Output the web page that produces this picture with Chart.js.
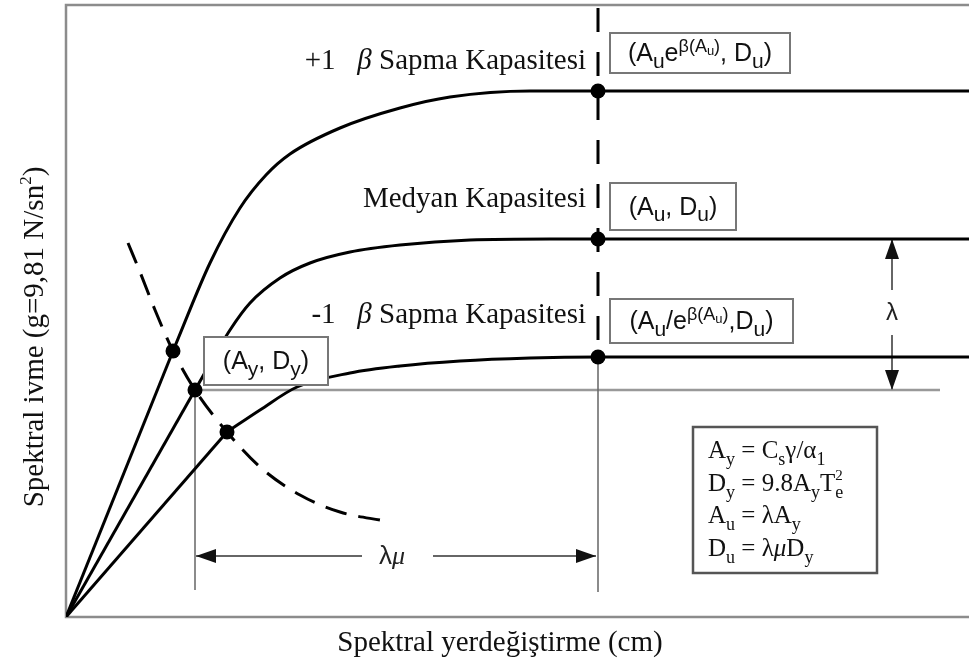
<!DOCTYPE html>
<html>
<head>
<meta charset="utf-8">
<script src="https://cdn.jsdelivr.net/npm/chart.js@4"></script>
<style>
html, body { margin: 0; padding: 0; background: #fff; }
canvas { display: block; }
</style>
</head>
<body>
<canvas id="myChart" width="969" height="669"></canvas>
<script>
// capacity curves: elastic branch from the origin to the yield point, then the plastic part
var upperCurve = [[0, 0], [10.7, 26.6], [14.4, 35.4], [17.4, 40.9], [20.0, 44.2], [22.4, 46.3], [27.4, 48.9], [33.4, 50.9], [38.4, 52.0], [46.4, 52.6], [90.3, 52.6]]
var medianCurve = [[0, 0], [12.9, 22.7], [16.4, 28.7], [18.4, 31.4], [21.4, 33.9], [24.4, 35.4], [28.4, 36.5], [33.4, 37.2], [40.4, 37.7], [48.4, 37.8], [90.3, 37.8]]
var lowerCurve = [[0, 0], [16.1, 18.5], [19.4, 20.7], [23.1, 23.0], [28.4, 24.4], [33.4, 25.1], [39.4, 25.6], [46.4, 25.9], [53.2, 26.0], [90.3, 26.0]]

// demand spectrum (dashed)
var demandCurve = [[6.2, 37.4], [7.4, 34.5], [8.9, 30.7], [10.7, 26.6], [12.9, 22.7], [16.1, 18.5], [19.4, 15.0], [23.4, 12.2], [27.4, 10.5], [31.9, 9.6]]

// ultimate displacement Du and the capacity levels at it
var ultimateDisp = 53.2
var capacityLevels = [52.6, 37.8, 26.0]
var capacityNames = [['+1   ', 'β', ' Sapma Kapasitesi'], ['', '', 'Medyan Kapasitesi'], ['-1   ', 'β', ' Sapma Kapasitesi']]

// yield point (Ay, Dy)
var yieldDisp = 12.9
var yieldAcc = 22.7

var xMax = 90.3
var yMax = 61.2

var pts = arr => arr.map(p => ({ x: p[0], y: p[1] }))

var serif = '"Liberation Serif", "Times New Roman", serif'
var sans = '"Liberation Sans", Arial, sans-serif'

// runs: { t, l, it, nx } - l: 0 normal, -1 sub, 1 sup, 2 sub inside sup; nx: do not advance
// the "b" levels are the larger indices used inside the point boxes
var levels = {
	'0': { s: 1, dy: 0 },
	'-1': { s: 0.72, dy: 0.28 },
	'1': { s: 0.6, dy: -0.42 },
	'2': { s: 0.42, dy: -0.28 },
	'-1b': { s: 0.82, dy: 0.26 },
	'1b': { s: 0.72, dy: -0.38 },
	'2b': { s: 0.52, dy: -0.24 }
}

function runFont (r, size, family) {
	var lv = levels[r.l || 0]
	return (r.it ? 'italic ' : '') + Math.round(size * lv.s) + 'px ' + family
}

function richWidth (ctx, runs, size, family) {
	var w = 0
	runs.forEach(r => {
		ctx.font = runFont(r, size, r.f || family)
		if (!r.nx) w += ctx.measureText(r.t).width
	})
	return w
}

function drawRich (ctx, x, y, runs, size, family, align) {
	var w = richWidth(ctx, runs, size, family)
	if (align === 'center') x -= w / 2
	if (align === 'right') x -= w
	ctx.textAlign = 'left'
	ctx.textBaseline = 'alphabetic'
	runs.forEach(r => {
		var lv = levels[r.l || 0]
		ctx.font = runFont(r, size, r.f || family)
		ctx.fillText(r.t, x, y + lv.dy * size)
		if (!r.nx) x += ctx.measureText(r.t).width
	})
}

function box (ctx, x, y, w, h, color, lw) {
	ctx.fillStyle = '#fff'
	ctx.fillRect(x, y, w, h)
	ctx.strokeStyle = color
	ctx.lineWidth = lw
	ctx.strokeRect(x, y, w, h)
}

function arrowHead (ctx, x, y, dir) {
	var len = 20, half = 7
	var dx = { left: 1, right: -1, up: 0, down: 0 }[dir]
	var dy = { left: 0, right: 0, up: 1, down: -1 }[dir]
	ctx.fillStyle = '#111'
	ctx.beginPath()
	ctx.moveTo(x, y)
	ctx.lineTo(x + dx * len - dy * half, y + dy * len - dx * half)
	ctx.lineTo(x + dx * len + dy * half, y + dy * len + dx * half)
	ctx.closePath()
	ctx.fill()
}

var framePlugin = {
	id: 'frame',
	beforeDatasetsDraw (chart) {
		var ctx = chart.ctx
		var a = chart.chartArea
		ctx.save()
		ctx.strokeStyle = '#8c8c8c'
		ctx.lineWidth = 2.5
		ctx.beginPath()
		ctx.moveTo(a.right, a.top)
		ctx.lineTo(a.left, a.top)
		ctx.lineTo(a.left, a.bottom)
		ctx.lineTo(a.right, a.bottom)
		ctx.stroke()
		ctx.restore()
	}
}

var labelPlugin = {
	id: 'labels',
	afterDatasetsDraw (chart) {
		var ctx = chart.ctx
		var xs = chart.scales.x
		var ys = chart.scales.y
		var px = v => xs.getPixelForValue(v)
		var py = v => ys.getPixelForValue(v)
		var du = px(ultimateDisp)
		ctx.save()
		ctx.fillStyle = '#111'

		// capacity names left of the Du line
		var nameOffsets = [22, 32, 34]
		capacityNames.forEach((n, i) => {
			drawRich(ctx, du - 12, py(capacityLevels[i]) - nameOffsets[i], [
				{ t: n[0] }, { t: n[1], it: true }, { t: n[2] }
			], 28.5, serif, 'right')
		})

		// point boxes right of the Du line
		var boxes = [
			{ top: py(capacityLevels[0]) - 58, w: 180, h: 40, runs: [{ t: '(A' }, { t: 'u', l: '-1b' }, { t: 'e' }, { t: 'β(A', l: '1b' }, { t: 'u', l: '2b' }, { t: ')', l: '1b' }, { t: ', D' }, { t: 'u', l: '-1b' }, { t: ')' }] },
			{ top: py(capacityLevels[1]) - 56, w: 126, h: 47, runs: [{ t: '(A' }, { t: 'u', l: '-1b' }, { t: ', D' }, { t: 'u', l: '-1b' }, { t: ')' }] },
			{ top: py(capacityLevels[2]) - 58, w: 183, h: 44, runs: [{ t: '(A' }, { t: 'u', l: '-1b' }, { t: '/e' }, { t: 'β(A', l: '1b' }, { t: 'u', l: '2b' }, { t: ')', l: '1b' }, { t: ',D' }, { t: 'u', l: '-1b' }, { t: ')' }] }
		]
		boxes.forEach(b => {
			box(ctx, du + 12, b.top, b.w, b.h, '#777', 2)
			ctx.fillStyle = '#111'
			drawRich(ctx, du + 12 + b.w / 2, b.top + b.h / 2 + 8, b.runs, 25, sans, 'center')
		})

		// yield point box
		var yx = px(yieldDisp) + 9
		var yy = py(yieldAcc) - 53
		box(ctx, yx, yy, 124, 48, '#777', 2)
		ctx.fillStyle = '#111'
		drawRich(ctx, yx + 62, yy + 32, [{ t: '(A' }, { t: 'y', l: '-1b' }, { t: ', D' }, { t: 'y', l: '-1b' }, { t: ')' }], 25, sans, 'center')

		// formula box
		var fx = 693, fy = 427
		box(ctx, fx, fy, 184, 146, '#555', 2.5)
		ctx.fillStyle = '#111'
		var lines = [
			[{ t: 'A' }, { t: 'y', l: -1 }, { t: ' = C' }, { t: 's', l: -1 }, { t: 'γ/α' }, { t: '1', l: -1 }],
			[{ t: 'D' }, { t: 'y', l: -1 }, { t: ' = 9.8A' }, { t: 'y', l: -1 }, { t: 'T' }, { t: 'e', l: -1, nx: true }, { t: '2', l: 1 }],
			[{ t: 'A' }, { t: 'u', l: -1 }, { t: ' = λA' }, { t: 'y', l: -1 }],
			[{ t: 'D' }, { t: 'u', l: -1 }, { t: ' = λ' }, { t: 'μ', it: true }, { t: 'D' }, { t: 'y', l: -1 }]
		]
		lines.forEach((ln, i) => drawRich(ctx, fx + 15, fy + 31 + i * 32.5, ln, 25, serif, 'left'))

		// dimension arrows
		arrowHead(ctx, px(yieldDisp + 0.1), py(6.1), 'left')
		arrowHead(ctx, px(ultimateDisp - 0.2), py(6.1), 'right')
		arrowHead(ctx, px(82.6), py(capacityLevels[1]), 'up')
		arrowHead(ctx, px(82.6), py(yieldAcc), 'down')
		ctx.fillStyle = '#222'
		drawRich(ctx, px(32.6), py(6.1) + 8, [{ t: 'λ', f: sans }, { t: 'μ', it: true }], 26, serif, 'center')
		ctx.font = '24px ' + sans
		ctx.textAlign = 'center'
		ctx.textBaseline = 'middle'
		ctx.fillText('λ', px(82.6), py(30.4))

		// axis titles
		ctx.fillStyle = '#111'
		ctx.font = '29px ' + serif
		ctx.textBaseline = 'middle'
		ctx.fillText('Spektral yerdeğiştirme (cm)', 500, 643)
		ctx.translate(33, 337)
		ctx.rotate(-Math.PI / 2)
		drawRich(ctx, 0, 10, [{ t: 'Spektral ivme (g=9,81 N/sn' }, { t: '2', l: 1 }, { t: ')' }], 29, serif, 'center')
		ctx.restore()
	}
}

var line = (data, extra) => Object.assign({
	data: pts(data),
	showLine: true,
	borderColor: '#000',
	borderWidth: 3,
	pointRadius: 0,
	fill: false
}, extra)

var capacityDots = capacityLevels.map(v => [ultimateDisp, v])
var yieldDots = [upperCurve[1], medianCurve[1], lowerCurve[1]]

var datasets = [
	{ data: pts(capacityDots.concat(yieldDots)), pointRadius: 7.5, pointBackgroundColor: '#000', pointBorderWidth: 0, showLine: false },
	line(upperCurve.slice(0, 2)),
	line(upperCurve.slice(1), { cubicInterpolationMode: 'monotone' }),
	line(medianCurve.slice(0, 2)),
	line(medianCurve.slice(1), { cubicInterpolationMode: 'monotone' }),
	line(lowerCurve.slice(0, 2)),
	line(lowerCurve.slice(1), { cubicInterpolationMode: 'monotone' }),
	line(demandCurve, { borderDash: [22, 12], cubicInterpolationMode: 'monotone' }),
	// Du line: dashed above the lower capacity, thin below
	line([[ultimateDisp, 60.9], [ultimateDisp, capacityLevels[2]]], { borderDash: [24, 20] }),
	line([[ultimateDisp, capacityLevels[2]], [ultimateDisp, 2.5]], { borderColor: '#666', borderWidth: 1.5 }),
	// yield level and yield displacement
	line([[yieldDisp + 0.1, yieldAcc], [87.4, yieldAcc]], { borderColor: '#999', borderWidth: 2.5 }),
	line([[yieldDisp, yieldAcc], [yieldDisp, 2.7]], { borderColor: '#666', borderWidth: 1.5 }),
	// λμ and λ dimension lines, broken for their labels
	line([[yieldDisp + 0.1, 6.1], [29.6, 6.1], [33, null], [36.7, 6.1], [ultimateDisp - 0.2, 6.1]], { borderColor: '#666', borderWidth: 2 }),
	line([[82.6, capacityLevels[1]], [82.6, 32.7], [82.6, null], [82.6, 28.2], [82.6, yieldAcc]], { borderColor: '#666', borderWidth: 2 })
]

var myChart = new Chart(document.getElementById('myChart').getContext('2d'), {
	type: 'scatter',
	data: { datasets: datasets },
	options: {
		responsive: false,
		animation: false,
		layout: { autoPadding: false, padding: { left: 66, right: 0, top: 5, bottom: 52 } },
		scales: {
			x: { type: 'linear', min: 0, max: xMax, display: false },
			y: { type: 'linear', min: 0, max: yMax, display: false }
		},
		plugins: {
			legend: { display: false },
			tooltip: { enabled: false }
		}
	},
	plugins: [framePlugin, labelPlugin]
})
</script>
</body>
</html>
